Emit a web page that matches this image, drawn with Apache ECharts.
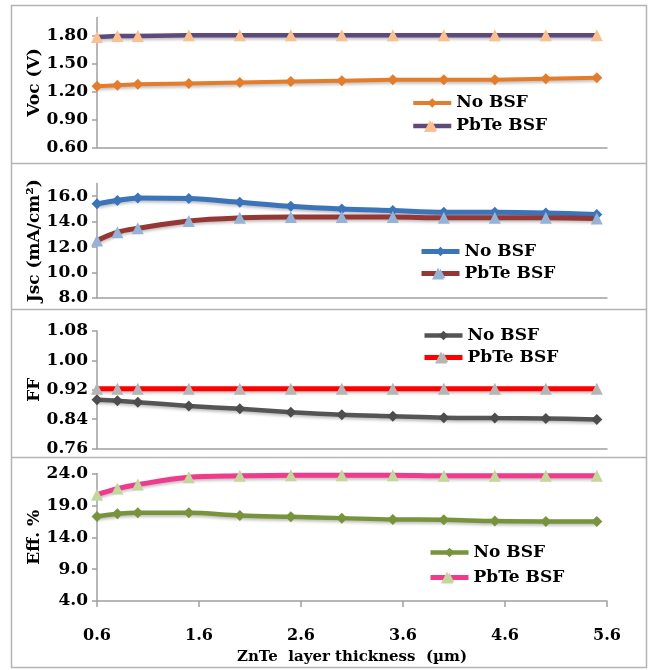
<!DOCTYPE html>
<html>
<head>
<meta charset="utf-8">
<script src="https://cdn.jsdelivr.net/npm/echarts@6/dist/echarts.min.js"></script>
<style>
  html,body{margin:0;padding:0;background:#fff;}
  #chart{width:653px;height:670px;}
</style>
</head>
<body>
<div id="chart"></div>
<script>
// ZnTe layer thickness (um)
var thickness = [0.6, 0.8, 1.0, 1.5, 2.0, 2.5, 3.0, 3.5, 4.0, 4.5, 5.0, 5.5];

var vocNoBsf   = [1.26, 1.27, 1.28, 1.29, 1.30, 1.31, 1.32, 1.33, 1.33, 1.33, 1.34, 1.35];
var vocPbTe    = [1.79, 1.80, 1.80, 1.81, 1.81, 1.81, 1.81, 1.81, 1.81, 1.81, 1.81, 1.81];
var jscNoBsf   = [15.40, 15.66, 15.87, 15.82, 15.53, 15.21, 15.00, 14.87, 14.74, 14.74, 14.69, 14.56];
var jscPbTe    = [12.51, 13.17, 13.48, 14.06, 14.30, 14.37, 14.37, 14.37, 14.30, 14.30, 14.30, 14.24];
var ffNoBsf    = [0.893, 0.890, 0.886, 0.876, 0.868, 0.859, 0.852, 0.848, 0.844, 0.843, 0.842, 0.839];
var ffPbTe     = [0.923, 0.923, 0.923, 0.923, 0.923, 0.923, 0.923, 0.923, 0.923, 0.923, 0.923, 0.923];
var effNoBsf   = [17.26, 17.68, 17.84, 17.84, 17.42, 17.21, 17.00, 16.79, 16.74, 16.53, 16.47, 16.47];
var effPbTe    = [20.68, 21.63, 22.26, 23.42, 23.63, 23.74, 23.74, 23.74, 23.63, 23.63, 23.63, 23.63];

var xTicks = [0.6, 1.6, 2.6, 3.6, 4.6, 5.6];
var legendNames = ['No BSF', 'PbTe BSF'];

var FONT = 'DejaVu Serif';
var AXIS_COLOR = '#A0A0A0';

function pairs(ys){
  return thickness.map(function(x, i){ return [x, ys[i]]; });
}

// panel layout
var panels = [
  {top: 17.5, height: 130, min: 0.6, max: 2.0, interval: 0.3, dec: 2, name: 'Voc (V)'},
  {top: 183.5, height: 114.5, min: 8, max: 17, interval: 2, dec: 1, name: 'Jsc (mA/cm\u00B2)'},
  {top: 331, height: 117.5, min: 0.76, max: 1.08, interval: 0.08, dec: 2, name: 'FF'},
  {top: 473.5, height: 127.5, min: 4, max: 24, interval: 5, dec: 1, name: 'Eff. %'}
];

var grids = [], xAxes = [], yAxes = [];
panels.forEach(function(p, i){
  grids.push({left: 97, width: 510, top: p.top, height: p.height});
  var last = (i == 3);
  xAxes.push({
    type: 'value', gridIndex: i, min: xTicks[0], max: xTicks[xTicks.length-1], interval: 1,
    axisLine: {show: true, onZero: false, lineStyle: {color: AXIS_COLOR, width: 1.5}},
    axisTick: {show: last, length: 6, lineStyle: {color: AXIS_COLOR, width: 1.5}},
    axisLabel: {show: last, margin: 27, fontFamily: FONT, fontWeight: 'bold', fontSize: 16, color: '#000',
      formatter: function(v){ return v.toFixed(1); }},
    splitLine: {show: false},
    name: last ? 'ZnTe  layer thickness  (\u00B5m)' : '',
    nameLocation: 'middle', nameGap: 49, nameMoveOverlap: false,
    nameTextStyle: {fontFamily: FONT, fontWeight: 'bold', fontSize: 15, color: '#000'}
  });
  yAxes.push({
    type: 'value', gridIndex: i, min: p.min, max: p.max, interval: p.interval,
    axisLine: {show: true, lineStyle: {color: AXIS_COLOR, width: 1.5}},
    axisTick: {show: true, length: 5, lineStyle: {color: AXIS_COLOR, width: 1.5}},
    axisLabel: {margin: 9, fontFamily: FONT, fontWeight: 'bold', fontSize: 17, color: '#000',
      showMaxLabel: (p.max - p.min) / p.interval % 1 < 1e-6 ? true : false,
      formatter: (function(d){ return function(v){ return v.toFixed(d); }; })(p.dec)},
    splitLine: {show: false},
    name: p.name, nameLocation: 'middle', nameRotate: 90, nameGap: 54, nameMoveOverlap: false,
    nameTextStyle: {fontFamily: FONT, fontWeight: 'bold', fontSize: 17, color: '#000'}
  });
});

var shadow = {shadowColor: 'rgba(0,0,0,0.25)', shadowBlur: 3, shadowOffsetY: 2};

function mk(name, idx, ys, lineColor, width, symbol, symColor, smooth){
  var size = symbol == 'diamond' ? 11 : 12;
  return {
    name: name, type: 'line', xAxisIndex: idx, yAxisIndex: idx,
    data: pairs(ys), smooth: smooth ? 0.35 : false,
    symbol: symbol, symbolSize: size, showAllSymbol: true,
    lineStyle: Object.assign({color: lineColor, width: width}, shadow),
    itemStyle: {color: symColor},
    emphasis: {disabled: true}
  };
}

var series = [
  mk('Voc No BSF', 0, vocNoBsf, '#E37D2C', 4, 'diamond', '#E37D2C', false),
  mk('Voc PbTe BSF', 0, vocPbTe, '#5F497A', 4.5, 'triangle', '#FAC090', false),
  mk('Jsc No BSF', 1, jscNoBsf, '#3B74BA', 5, 'diamond', '#3B74BA', true),
  mk('Jsc PbTe BSF', 1, jscPbTe, '#953735', 5, 'triangle', '#95B3D7', true),
  mk('FF No BSF', 2, ffNoBsf, '#555555', 4.5, 'diamond', '#4D4D4D', true),
  mk('FF PbTe BSF', 2, ffPbTe, '#FF0000', 5, 'triangle', '#B5B5B5', false),
  mk('Eff No BSF', 3, effNoBsf, '#77933C', 4.5, 'diamond', '#77933C', true),
  mk('Eff PbTe BSF', 3, effPbTe, '#F03A8C', 5, 'triangle', '#C3D69B', true)
];

var prefixes = ['Voc', 'Jsc', 'FF', 'Eff'];
var legendPos = [
  {left: 411, top: 94.5, gap: 6},
  {left: 419, top: 243, gap: 5},
  {left: 422, top: 327, gap: 5},
  {left: 428, top: 544, gap: 8}
];
var legends = [];
legendPos.forEach(function(lp, i){
  var base = {
    orient: 'vertical', top: lp.top, itemGap: lp.gap, padding: 0,
    itemHeight: 12, selectedMode: false,
    formatter: function(n){ return n.replace(/^\S+ /, ''); }
  };
  // line + marker with the text
  legends.push(Object.assign({}, base, {
    left: lp.left, itemWidth: 38,
    lineStyle: {width: 'inherit'},
    data: legendNames.map(function(n){ return prefixes[i] + ' ' + n; }),
    textStyle: {fontFamily: FONT, fontWeight: 'bold', fontSize: 17, color: '#000'}
  }));
  // same layout again, only to put the triangle on top of the legend line
  legends.push(Object.assign({}, base, {
    left: lp.left + 13, itemWidth: 12, z: 6,
    data: [
      {name: prefixes[i] + ' ' + legendNames[0], icon: 'none'},
      {name: prefixes[i] + ' ' + legendNames[1], icon: 'triangle'}
    ],
    textStyle: {fontFamily: FONT, fontWeight: 'bold', fontSize: 17, color: 'rgba(0,0,0,0)'}
  }));
});

// panel frames
var frameColor = '#B4B4B4';
var graphic = [
  {type: 'rect', shape: {x: 11.5, y: 5.5, width: 635, height: 662}, style: {fill: 'none', stroke: frameColor, lineWidth: 1.5}},
  {type: 'line', shape: {x1: 11.5, y1: 163.5, x2: 646.5, y2: 163.5}, style: {stroke: frameColor, lineWidth: 1.5}},
  {type: 'line', shape: {x1: 11.5, y1: 309.5, x2: 646.5, y2: 309.5}, style: {stroke: frameColor, lineWidth: 1.5}},
  {type: 'line', shape: {x1: 11.5, y1: 457.5, x2: 646.5, y2: 457.5}, style: {stroke: frameColor, lineWidth: 1.5}}
];

var myChart = echarts.init(document.getElementById('chart'), null, {renderer: 'canvas'});
myChart.setOption({
  animation: false,
  backgroundColor: '#fff',
  grid: grids,
  xAxis: xAxes,
  yAxis: yAxes,
  legend: legends,
  graphic: graphic,
  series: series
});
</script>
</body>
</html>
